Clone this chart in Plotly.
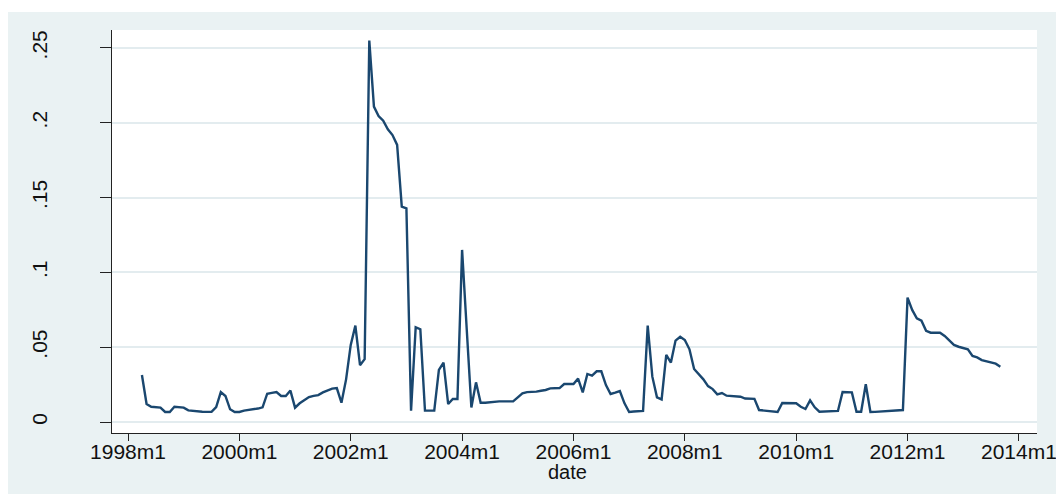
import plotly.graph_objects as go

start_year = 1998
start_month = 4
values = [
    # 1998 m4..m12
    0.0314, 0.0120, 0.0102, 0.0099, 0.0096, 0.0067, 0.0067, 0.0102, 0.0099,
    # 1999
    0.0096, 0.0078, 0.0074, 0.0071, 0.0069, 0.0068, 0.0068, 0.0100, 0.0200, 0.0174, 0.0085, 0.0067,
    # 2000
    0.0067, 0.0076, 0.0079, 0.0082, 0.0090, 0.0098, 0.0189, 0.0195, 0.0200, 0.0174, 0.0174, 0.0210,
    # 2001
    0.0096, 0.0125, 0.0146, 0.0167, 0.0175, 0.0180, 0.0198, 0.0212, 0.0223, 0.0227, 0.0129, 0.0285,
    # 2002
    0.0515, 0.0644, 0.0380, 0.0420, 0.2549, 0.2108, 0.2045, 0.2014, 0.1956, 0.1918, 0.1852, 0.1439,
    # 2003
    0.1428, 0.0076, 0.0633, 0.0620, 0.0076, 0.0076, 0.0076, 0.0348, 0.0397, 0.0120, 0.0154, 0.0154,
    # 2004
    0.1150, 0.0620, 0.0097, 0.0265, 0.0129, 0.0129, 0.0133, 0.0138, 0.0138, 0.0138, 0.0138, 0.0138,
    # 2005
    0.0165, 0.0192, 0.0200, 0.0201, 0.0203, 0.0209, 0.0214, 0.0225, 0.0226, 0.0227, 0.0254, 0.0254,
    # 2006
    0.0254, 0.0290, 0.0198, 0.0321, 0.0310, 0.0339, 0.0339, 0.0247, 0.0187, 0.0196, 0.0207, 0.0125,
    # 2007
    0.0067, 0.0070, 0.0072, 0.0074, 0.0644, 0.0303, 0.0165, 0.0151, 0.0448, 0.0397, 0.0544, 0.0570,
    # 2008
    0.0548, 0.0486, 0.0354, 0.0321, 0.0285, 0.0240, 0.0220, 0.0185, 0.0194, 0.0176, 0.0174, 0.0171,
    # 2009
    0.0169, 0.0157, 0.0156, 0.0155, 0.0080, 0.0078, 0.0076, 0.0072, 0.0067, 0.0127, 0.0126, 0.0126,
    # 2010
    0.0125, 0.0102, 0.0087, 0.0145, 0.0098, 0.0069, 0.0069, 0.0070, 0.0072, 0.0074, 0.0200, 0.0200,
    # 2011
    0.0198, 0.0069, 0.0069, 0.0252, 0.0067, 0.0068, 0.0070, 0.0072, 0.0074, 0.0076, 0.0078, 0.0080,
    # 2012
    0.0831, 0.0749, 0.0693, 0.0677, 0.0610, 0.0597, 0.0597, 0.0597, 0.0575, 0.0548, 0.0515, 0.0503,
    # 2013 m1..m9
    0.0495, 0.0486, 0.0441, 0.0432, 0.0414, 0.0407, 0.0401, 0.0390, 0.0370,
]

# month index relative to 1998m1
t = [(start_month - 1) + i for i in range(len(values))]

x_tick_years = [1998, 2000, 2002, 2004, 2006, 2008, 2010, 2012, 2014]
x_tick_vals = [(y - 1998) * 12 for y in x_tick_years]
x_tick_text = [f"{y}m1" for y in x_tick_years]

y_tick_vals = [0, 0.05, 0.1, 0.15, 0.2, 0.25]
y_tick_text = ["0", ".05", ".1", ".15", ".2", ".25"]

BG = "#eaf2f3"
GRID = "#e3ecef"
LINE = "#1a476f"

fig = go.Figure()
fig.add_trace(go.Scatter(x=t, y=values, mode="lines",
                         line=dict(color=LINE, width=2.4), showlegend=False,
                         hoverinfo="skip"))

# figure is offset by the page's 8px body margin
L, R, T, B = 104, 35, 22, 69
W, H = 1064, 494
pw = W - L - R
ph = H - T - B

fig.update_layout(
    width=W, height=H,
    margin=dict(l=L, r=R, t=T, b=B, pad=0, autoexpand=False),
    paper_bgcolor=BG, plot_bgcolor="white",
    font=dict(family="Liberation Sans, Arial, sans-serif", color="#111111"),
    xaxis=dict(
        range=[-3.45, 195.9], tickmode="array", tickvals=x_tick_vals, ticktext=x_tick_text,
        showgrid=False, zeroline=False, showline=True, linecolor="#222222", linewidth=1,
        ticks="outside", ticklen=7, tickcolor="#222222", tickwidth=1,
        tickfont=dict(size=21), automargin=False, ticklabelstandoff=-7,
    ),
    yaxis=dict(
        range=[-0.00735, 0.262], tickmode="array", tickvals=y_tick_vals, ticktext=y_tick_text,
        showgrid=True, gridcolor=GRID, gridwidth=1.5, zeroline=False,
        showline=True, linecolor="#222222", linewidth=1,
        ticks="outside", ticklen=11, tickcolor="#222222", tickwidth=1,
        tickangle=-90, tickfont=dict(size=21), ticklabelstandoff=45, automargin=False,
    ),
    annotations=[
        dict(text="date", xref="paper", yref="paper", x=0.492, y=(425 - 464) / ph,
             xanchor="center", yanchor="middle", showarrow=False,
             font=dict(size=20, color="#111111")),
    ],
    shapes=[
        dict(type="rect", xref="paper", yref="paper",
             x0=-L / pw - 0.01, x1=(W - L) / pw + 0.01,
             y0=(H - B - 4) / ph, y1=(H - B) / ph + 0.05,
             fillcolor="white", line=dict(width=0), layer="below"),
    ],
)

fig.write_html("out.html")
